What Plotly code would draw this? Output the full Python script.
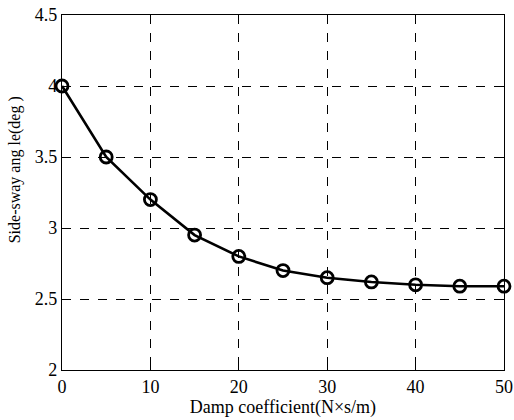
import plotly.graph_objects as go

damp = [0, 5, 10, 15, 20, 25, 30, 35, 40, 45, 50]
angle = [4.0, 3.5, 3.2, 2.95, 2.8, 2.7, 2.65, 2.62, 2.6, 2.59, 2.59]
x_ticks = [0, 10, 20, 30, 40, 50]
y_ticks = [2, 2.5, 3, 3.5, 4, 4.5]
y_labels = ["2", "2.5", "3", "3.5", "4", "4.5"]
x_title = "Damp coefficient(N×s/m)"
y_title = "Side-sway ang le(deg )"

fig = go.Figure()
fig.add_trace(go.Scatter(
    x=damp, y=angle, mode="lines+markers",
    line=dict(color="black", width=2.6),
    marker=dict(symbol="circle-open", size=12, color="black", line=dict(width=2.8)),
    showlegend=False, cliponaxis=False,
))

fam = "Liberation Serif, Times New Roman, serif"
tickfont = dict(family=fam, size=18, color="black")
axis_common = dict(
    showline=True, linecolor="black", linewidth=1.2, mirror="ticks",
    ticks="inside", ticklen=5, tickcolor="black",
    showgrid=True, gridcolor="black", griddash="dash", gridwidth=0.8,
    zeroline=False, tickfont=tickfont, automargin=False,
    ticklabeloverflow="allow",
)
fig.update_xaxes(range=[0, 50], tickvals=x_ticks,
                 title=dict(text=x_title, font=dict(family=fam, size=18, color="black"), standoff=0),
                 **axis_common)
fig.update_yaxes(range=[2, 4.5], tickvals=y_ticks, ticktext=y_labels, **axis_common)
fig.add_annotation(
    text=y_title, textangle=-90, showarrow=False,
    xref="paper", yref="paper", x=-0.106, y=0.563,
    xanchor="center", yanchor="middle",
    font=dict(family=fam, size=16, color="black"),
)
fig.update_layout(
    width=514, height=420,
    margin=dict(l=62, r=10, t=15, b=50),
    plot_bgcolor="white", paper_bgcolor="white",
    font=tickfont,
)
fig.write_html(
    "out.html",
    config={"displayModeBar": False},
    post_script="document.body.style.margin='0';document.body.style.overflow='hidden';",
)
